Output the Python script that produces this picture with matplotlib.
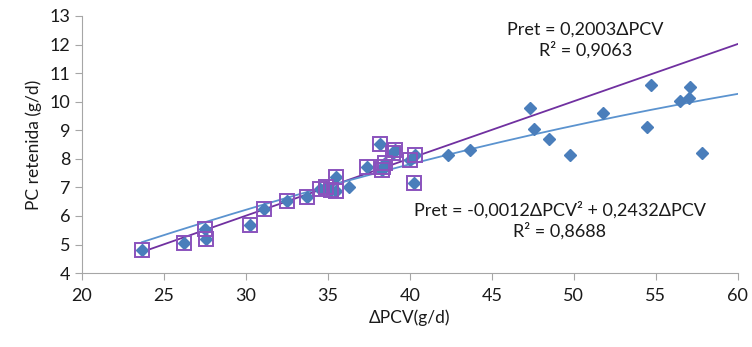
import numpy as np
import matplotlib.pyplot as plt

plt.rcParams['font.family'] = ['Lato', 'DejaVu Sans']

# puntos (todos, diamantes azules)
dpcv = [23.66, 26.2, 27.5, 27.56, 30.24, 31.1, 32.5, 33.7, 34.5, 34.9, 35.2, 35.5, 35.5,
        36.3, 37.4, 38.2, 38.3, 38.35, 38.5, 39.0, 39.1, 40.0, 40.3, 40.25,
        42.3, 43.66, 47.3, 47.6, 48.5, 49.8, 51.8, 54.45, 54.7, 56.5, 57.0, 57.1, 57.8]
pret = [4.81, 5.05, 5.54, 5.19, 5.68, 6.24, 6.52, 6.66, 6.94, 7.02, 6.9, 7.36, 6.87,
        7.0, 7.71, 8.52, 7.6, 7.7, 7.85, 8.2, 8.3, 7.96, 8.15, 7.15,
        8.15, 8.3, 9.78, 9.04, 8.69, 8.13, 9.6, 9.11, 10.58, 10.02, 10.13, 10.5, 8.2]

# subconjunto marcado con cuadros
dpcv_sq = [23.66, 26.2, 27.5, 27.56, 30.24, 31.1, 32.5, 33.7, 34.5, 34.9, 35.2, 35.5, 35.5,
           37.4, 38.2, 38.3, 38.35, 38.5, 39.0, 39.1, 40.0, 40.3, 40.25]
pret_sq = [4.81, 5.05, 5.54, 5.19, 5.68, 6.24, 6.52, 6.66, 6.94, 7.02, 6.9, 7.36, 6.87,
           7.71, 8.52, 7.6, 7.7, 7.85, 8.2, 8.3, 7.96, 8.15, 7.15]

# ajustes
lin_a = 0.2003
quad_a, quad_b = -0.0012, 0.2432

blue = '#4a7ebb'
purple = '#8a52bd'

fig = plt.figure(figsize=(7.52, 3.47), dpi=100)
ax = fig.add_axes([0.109, 0.213, 0.872, 0.741])

xl = np.linspace(min(dpcv), 60, 200)
ax.plot(xl, lin_a * xl, color='#7030a0', lw=1.3, zorder=2)
ax.plot(xl, quad_a * xl**2 + quad_b * xl, color='#5b93cf', lw=1.3, zorder=2)

ax.plot(dpcv, pret, 'D', color=blue, ms=6.5, mec=blue, zorder=3)
ax.plot(dpcv_sq, pret_sq, 's', mfc='none', mec=purple, mew=1.4, ms=10.5, zorder=4)

ax.set_xlim(20, 60)
ax.set_ylim(4, 13)
ax.set_xticks(range(20, 61, 5))
ax.set_yticks(range(4, 14))
for s in ['top', 'right']:
    ax.spines[s].set_visible(False)
for s in ['left', 'bottom']:
    ax.spines[s].set_color('#a6a6a6')
ax.tick_params(direction='out', length=5, color='#a6a6a6', labelsize=13, labelcolor='#1a1a1a')
ax.tick_params(axis='x', pad=6)

ax.set_xlabel('ΔPCV(g/d)', fontsize=12.5, color='#1a1a1a', labelpad=4)
ax.set_ylabel('PC retenida (g/d)', fontsize=12.5, color='#1a1a1a', labelpad=5)

ax.text(50.7, 12.14, 'Pret = 0,2003ΔPCV\nR² = 0,9063', fontsize=13, ha='center',
        va='center', linespacing=1.25, color='#1a1a1a')
ax.text(49.15, 5.84, 'Pret = -0,0012ΔPCV² + 0,2432ΔPCV\nR² = 0,8688', fontsize=13,
        ha='center', va='center', linespacing=1.25, color='#1a1a1a')

fig.savefig('out.png', dpi=100)
